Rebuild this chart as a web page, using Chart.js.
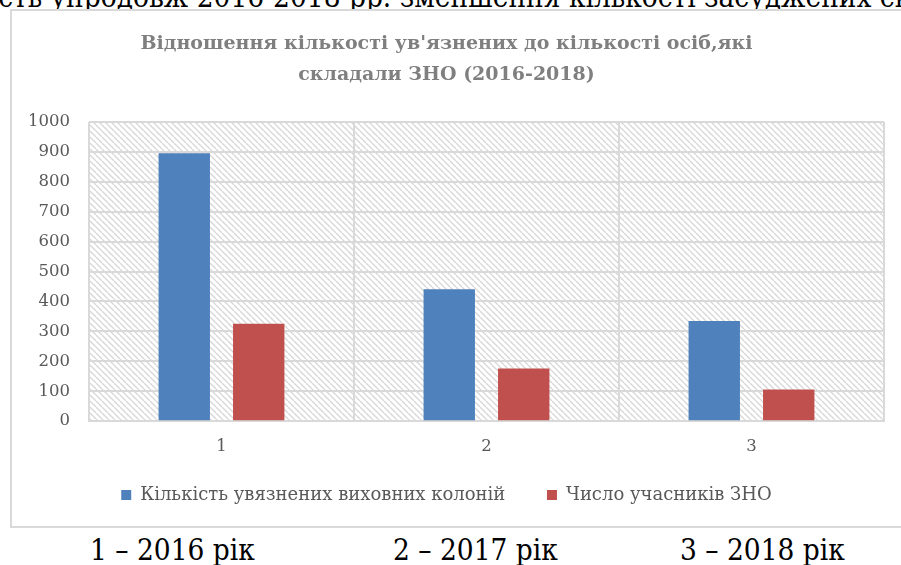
<!DOCTYPE html>
<html>
<head>
<meta charset="utf-8">
<script src="https://cdn.jsdelivr.net/npm/chart.js@4.4.1/dist/chart.umd.min.js"></script>
<style>
    html, body { margin: 0; padding: 0; background: #fff; overflow: hidden; width: 901px; height: 565px; }
    #top { position: absolute; top: -18px; left: 0; }
    #frame { position: absolute; left: 10px; top: 9px; width: 900px; height: 515px; border: 2px solid #d9d9d9; background: #fff; }
    .cap { position: absolute; top: 535px; }
    .doc { font-family: "DejaVu Serif", serif; font-size: 26.5px; line-height: 32px; white-space: nowrap; color: #000;
           transform: scaleY(1.13); transform-origin: 0 25px; }
</style>
</head>
<body>
<div id="top" class="doc">ність упродовж <span id="yr">2016-2018</span> рр. зменшення кількості засуджених складав</div>
<div id="frame"><canvas id="myChart"></canvas></div>
<div class="cap doc" style="left:90px">1 – 2016 рік</div>
<div class="cap doc" style="left:393px">2 – 2017 рік</div>
<div class="cap doc" style="left:680px">3 – 2018 рік</div>

<script>
// data
const categories = ['1', '2', '3'];
const prisoners = [895, 441, 335];
const znoCount = [326, 176, 106];
const seriesNames = ['Кількість увязнених виховних колоній', 'Число учасників ЗНО'];
const titleLines = ['Відношення кількості ув\'язнених до кількості осіб,які', 'складали ЗНО (2016-2018)'];

// line up the cut-off text above the chart
let yr = document.getElementById('yr');
document.getElementById('top').style.left = (197 - yr.offsetLeft) + 'px';

function makeHatch() {
    let c = document.createElement('canvas');
    c.width = 6;
    c.height = 6;
    let g = c.getContext('2d');
    g.fillStyle = '#ffffff';
    g.fillRect(0, 0, 6, 6);
    g.strokeStyle = '#d6d6d6';
    g.lineWidth = 1.3;
    g.beginPath();
    g.moveTo(0, 0); g.lineTo(6, 6);
    g.moveTo(-6, 0); g.lineTo(0, 6);
    g.moveTo(0, -6); g.lineTo(6, 0);
    g.stroke();
    return g.createPattern(c, 'repeat');
}

const hatchBg = {
    id: 'hatchBg',
    beforeDraw(chart) {
        let a = chart.chartArea;
        let ctx = chart.ctx;
        ctx.save();
        ctx.fillStyle = makeHatch();
        ctx.fillRect(a.left, a.top, a.right - a.left, a.bottom - a.top);
        ctx.restore();
    }
};

const serif = '"DejaVu Serif", serif';

let ctx = document.getElementById('myChart').getContext('2d');
let myChart = new Chart(ctx, {
    type: 'bar',
    data: {
        labels: categories,
        datasets: [{
            label: seriesNames[0],
            data: prisoners,
            backgroundColor: '#4f81bd',
            categoryPercentage: 0.562,
            barPercentage: 0.69
        }, {
            label: seriesNames[1],
            data: znoCount,
            backgroundColor: '#c0504d',
            categoryPercentage: 0.562,
            barPercentage: 0.69
        }]
    },
    options: {
        responsive: true,
        maintainAspectRatio: false,
        animation: false,
        layout: { padding: { left: -3, right: 28, top: 0, bottom: 12 } },
        plugins: {
            title: {
                display: true,
                text: titleLines,
                color: '#7f7f7f',
                font: { family: serif, size: 19, weight: 'bold', lineHeight: 1.63 },
                padding: { top: 18, bottom: 31 }
            },
            legend: {
                position: 'bottom',
                labels: {
                    color: '#595959',
                    font: { family: serif, size: 18 },
                    boxWidth: 10,
                    boxHeight: 10,
                    padding: 13,
                    generateLabels(chart) {
                        let items = Chart.defaults.plugins.legend.labels.generateLabels(chart);
                        items.forEach((it, i) => {
                            it.lineWidth = 0;
                            if (i < items.length - 1) it.text = it.text + '     ';
                        });
                        return items;
                    }
                }
            },
            tooltip: { enabled: false }
        },
        scales: {
            x: {
                offset: true,
                grid: { offset: true, color: '#d9d9d9', lineWidth: 2, drawTicks: false },
                border: { color: '#d9d9d9', width: 2 },
                ticks: { color: '#595959', font: { family: serif, size: 16.5 }, padding: 16 }
            },
            y: {
                min: 0,
                max: 1000,
                grid: { color: '#d9d9d9', lineWidth: 2, drawTicks: false },
                border: { display: false },
                ticks: {
                    stepSize: 100,
                    color: '#595959',
                    font: { family: serif, size: 16.5 },
                    padding: 19,
                    callback: v => String(v)
                }
            }
        }
    },
    plugins: [hatchBg]
});
</script>
</body>
</html>
